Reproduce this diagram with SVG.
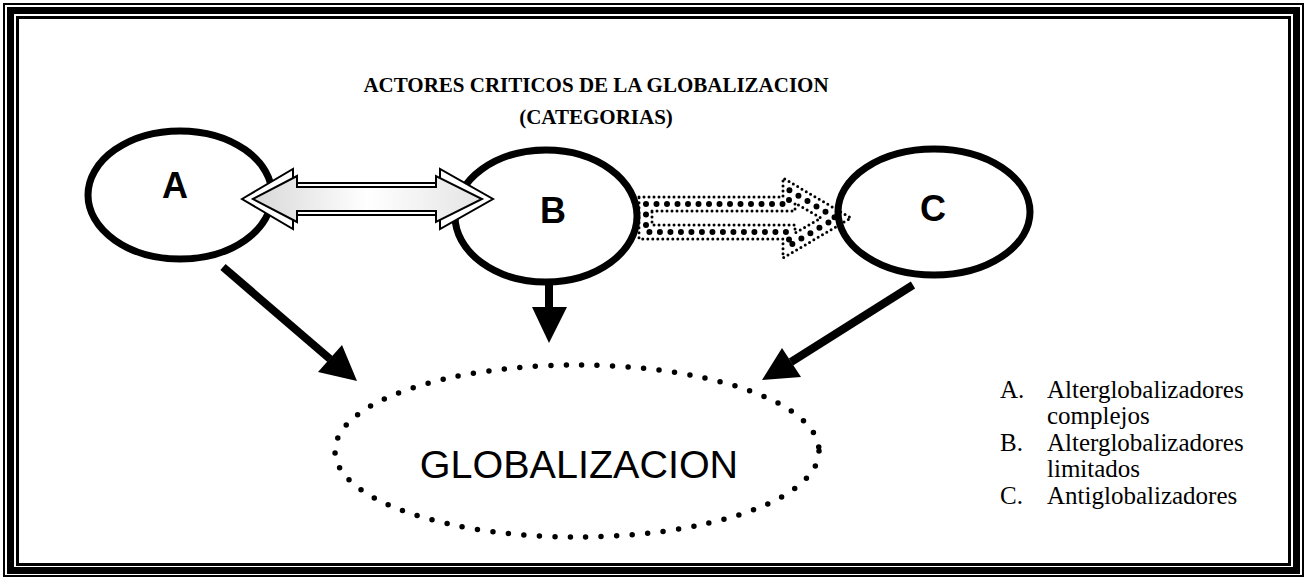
<svg xmlns="http://www.w3.org/2000/svg" width="1307" height="578" viewBox="0 0 1307 578">
<style>
.frame{fill:none;stroke:#000}
.node{fill:#fff;stroke:#000;stroke-width:7}
.letter{font-family:"Liberation Sans",Arial,sans-serif;font-weight:bold;font-size:36px;text-anchor:middle;fill:#000}
.title{font-family:"Liberation Serif","Times New Roman",serif;font-weight:bold;font-size:21px;text-anchor:middle;fill:#000}
.legend{font-family:"Liberation Serif","Times New Roman",serif;font-size:25px;fill:#000}
.glob{font-family:"Liberation Sans",Arial,sans-serif;font-size:39.5px;text-anchor:middle;fill:#000}
.conn{stroke:#000;stroke-width:8;fill:none}
.head{fill:#000;stroke:none}
.dotS{fill:none;stroke:#000;stroke-width:3;stroke-linecap:round;stroke-dasharray:0 5}
.dotL{fill:none;stroke:#000;stroke-width:6;stroke-linecap:round;stroke-dasharray:0 10.5}
</style>
<defs>
<linearGradient id="g1" x1="0" y1="0" x2="1" y2="0">
<stop offset="0" stop-color="#d8d8d8"/>
<stop offset="0.5" stop-color="#ffffff"/>
<stop offset="1" stop-color="#e4e4e4"/>
</linearGradient>
</defs>
<rect width="1307" height="578" fill="#fff"/>
<g id="frame">
<rect class="frame" x="4" y="4" width="1299" height="572" stroke-width="2"/>
<rect class="frame" x="10.5" y="10.5" width="1286" height="560" stroke-width="7"/>
<rect class="frame" x="17.5" y="17.5" width="1272" height="547" stroke-width="3"/>
</g>
<g id="title">
<text class="title" x="596" y="92">ACTORES CRITICOS DE LA GLOBALIZACION</text>
<text class="title" x="596" y="124">(CATEGORIAS)</text>
</g>
<g id="nodeA">
<ellipse class="node" cx="180" cy="195" rx="92" ry="64"/>
<text class="letter" x="175" y="198">A</text>
</g>
<g id="nodeB">
<ellipse class="node" cx="546" cy="216" rx="91" ry="66"/>
<text class="letter" x="553" y="223">B</text>
</g>
<g id="nodeC">
<ellipse class="node" cx="934" cy="212" rx="96" ry="63"/>
<text class="letter" x="933" y="221">C</text>
</g>
<g id="nodeG">
<ellipse cx="577" cy="451" rx="242" ry="86" fill="none" stroke="#000" stroke-width="5.5" stroke-linecap="round" stroke-dasharray="0 15.5"/>
<text class="glob" x="579" y="478">GLOBALIZACION</text>
</g>
<g id="connectors">
<g id="arrowAB">
<path d="M242,199 L293,169 V183 H440 V169 L493,199 L440,229 V215 H293 V229 Z" fill="#fff" stroke="#000" stroke-width="2"/>
<path d="M253,199 L297,176 V187 H436 V176 L482,199 L436,222 V211 H297 V222 Z" fill="url(#g1)" stroke="#000" stroke-width="2"/>
</g>
<g id="arrowBC">
<path d="M639,197 H783 V178 L851,218 L783,258 V239 H639 Z" fill="#fff" class="dotS"/>
<path d="M646,204 H789 V190 L836,218 L789,246 V232 H646 Z" class="dotL"/>
<path d="M652,211 H795 V203 L821,218 L795,233 V225 H652 Z" class="dotS"/>
</g>
<line class="conn" x1="223" y1="267" x2="330" y2="359"/>
<polygon class="head" points="357,381 318,372 342,345"/>
<line class="conn" x1="549" y1="285" x2="549" y2="310"/>
<polygon class="head" points="532,307 567,307 549,343"/>
<line class="conn" x1="913" y1="285" x2="791" y2="362"/>
<polygon class="head" points="762,380 782,348 801,377"/>
</g>
<g id="legend">
<text class="legend" x="1000" y="398">A.</text>
<text class="legend" x="1047" y="398">Alterglobalizadores</text>
<text class="legend" x="1047" y="424">complejos</text>
<text class="legend" x="1000" y="451">B.</text>
<text class="legend" x="1047" y="451">Alterglobalizadores</text>
<text class="legend" x="1047" y="477">limitados</text>
<text class="legend" x="1000" y="504">C.</text>
<text class="legend" x="1047" y="504">Antiglobalizadores</text>
</g>
</svg>
